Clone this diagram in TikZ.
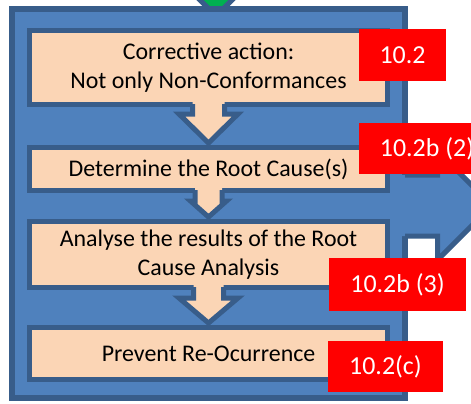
\documentclass[tikz,border=0pt]{standalone}
\usepackage{fontspec}
\setmainfont{Carlito}
\usepackage{tikz}
\usetikzlibrary{positioning,calc}

\definecolor{panelblue}{HTML}{4F81BD}
\definecolor{edgeblue}{HTML}{385D8A}
\definecolor{peach}{HTML}{FBD5B5}
\definecolor{clausered}{HTML}{FF0000}
\definecolor{startgreen}{HTML}{00B050}

\begin{document}
\begin{tikzpicture}[x=1bp,y=1bp,
		outerbox/.style={draw=edgeblue,fill=panelblue,line width=6bp,minimum width=393bp,minimum height=389bp},
		stage/.style={draw=edgeblue,fill=peach,line width=5bp,minimum width=358bp,align=center,
			font=\fontsize{24}{28.5}\selectfont},
		clause/.style={fill=clausered,text=white,inner sep=0pt,font=\fontsize{26}{30}\selectfont},
		flow/.style={draw=edgeblue,line width=5bp}]

	\useasboundingbox (0,0) rectangle (471,-403);

	% incoming arrow from above
	\filldraw[fill=startgreen,draw=edgeblue,line width=5bp] (191,9) -- (241,9) -- (216,-16) -- cycle;

	\node[outerbox] (panel) at (208.5,-203.5) {};

	% outgoing arrow to the right
	\coordinate (exit) at (492,-205.5);
	\fill[panelblue] (398,-175) -- (437.5,-175) -- (437.5,-151) -- (exit)
		-- (437.5,-260) -- (437.5,-236) -- (398,-236) -- cycle;
	\draw[flow] (405,-175) -- (437.5,-175) -- (437.5,-151) -- (exit)
		-- (437.5,-260) -- (437.5,-236) -- (405,-236);

	\node[stage,minimum height=74bp] (c1) at (208.5,-67.5) {Corrective action:\\Not only Non-Conformances};
	\node[stage,minimum height=43bp,below=38bp of c1] (c2) {Determine the Root Cause(s)};
	\node[stage,minimum height=66bp,below=26bp of c2] (c3) {Analyse the results of the Root\\Cause Analysis};
	\node[stage,minimum height=52bp,below=35bp of c3] (c4) {Prevent Re-Ocurrence};

	\foreach \a/\b/\s/\h/\d in {c1/c2/16/29.5/29, c2/c3/13.5/18/16, c3/c4/15/29.5/25}{
		\coordinate (tip) at ($(\a.south |- \b.north)+(0,2)$);
		\fill[peach] ($(\a.south)+(-\s,7)$) -- ($(tip)+(-\s,\d)$) -- ($(tip)+(-\h,\d)$) -- (tip)
			-- ($(tip)+(\h,\d)$) -- ($(tip)+(\s,\d)$) -- ($(\a.south)+(\s,7)$) -- cycle;
		\draw[flow] ($(\a.south)+(-\s,3)$) -- ($(tip)+(-\s,\d)$) -- ($(tip)+(-\h,\d)$) -- (tip)
			-- ($(tip)+(\h,\d)$) -- ($(tip)+(\s,\d)$) -- ($(\a.south)+(\s,3)$);
	}

	\node[clause,minimum width=87bp,minimum height=52bp] (r1) at (402.5,-55) {10.2};
	\node[clause,minimum width=136bp,minimum height=51bp] (r2) at (427,-148.5) {10.2b (2)};
	\node[clause,minimum width=137bp,minimum height=53bp] (r3) at (397.5,-284.5) {10.2b (3)};
	\node[clause,minimum width=115bp,minimum height=51bp] (r4) at (385.5,-366.5) {10.2(c)};
\end{tikzpicture}
\end{document}
